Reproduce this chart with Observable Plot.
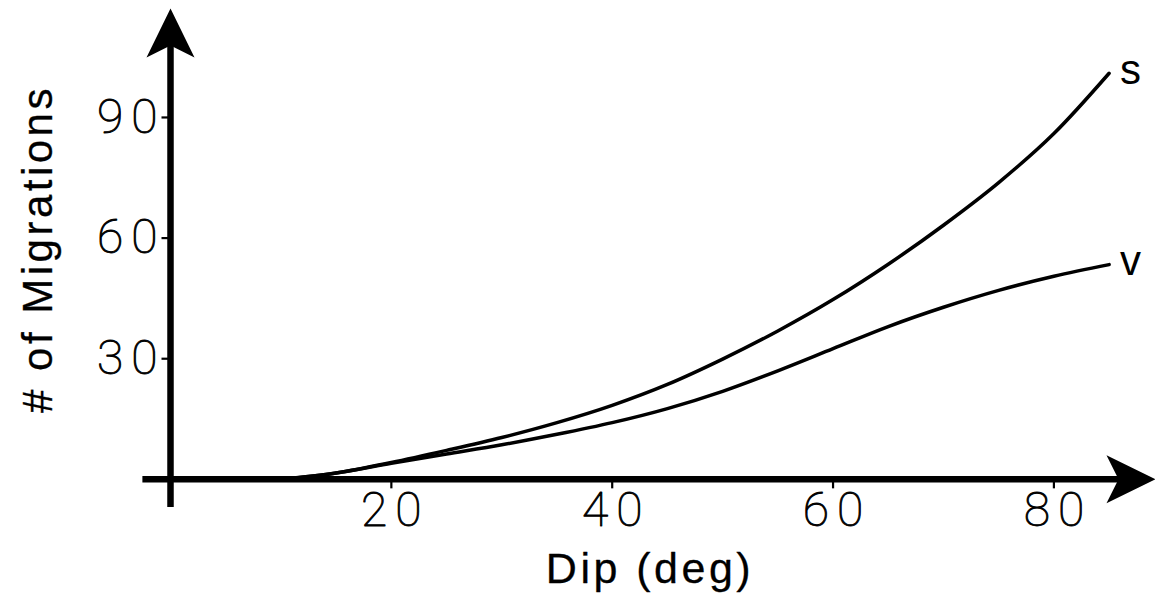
<!DOCTYPE html>
<html><head><meta charset="utf-8">
<script src="https://cdn.jsdelivr.net/npm/d3@7"></script>
<script src="https://cdn.jsdelivr.net/npm/@observablehq/plot@0.6"></script>
<style>
body{margin:0;background:#fff}
svg{display:block}
</style>
</head><body><div id="chart"></div>
<script>
// Data
const dips    = [10, 15, 20, 25, 30, 35, 40, 45, 50, 55, 60, 65, 70, 75, 80, 85];
const sValues = [0, 1.6, 4.2, 7.2, 10.4, 14.1, 18.4, 23.6, 29.9, 36.9, 44.7, 53.5, 63.2, 73.8, 86, 101];
const vValues = [0, 1.6, 4.0, 6.3, 8.6, 11.2, 14.1, 17.6, 21.9, 27.0, 32.5, 38.0, 42.8, 47.0, 50.5, 53.4];
const seriesNames = ["s", "v"];
const xTicks = [20, 40, 60, 80];
const yTicks = [30, 60, 90];
const xAxisExtent = [-2.5, 89.2];
const yAxisExtent = [-7, 117.1];
const xLabel = "Dip (deg)";
const yLabel = "# of Migrations";

const data = dips.flatMap((d, i) => [
  {dip: d, n: sValues[i], series: seriesNames[0]},
  {dip: d, n: vValues[i], series: seriesNames[1]}
]);

const arrowHead = {draw(ctx) { ctx.moveTo(0, 0); ctx.lineTo(24, 49); ctx.lineTo(0, 37); ctx.lineTo(-24, 49); ctx.closePath(); }};
const tickMark = {draw(ctx) { ctx.moveTo(0, 0); ctx.lineTo(0, 9); }};

const digitFont = "Roboto, 'DejaVu Sans', sans-serif";
const textFont = "'Liberation Sans', Arial, Helvetica, sans-serif";

const chart = Plot.plot({
  width: 1155,
  height: 597,
  marginLeft: 170,
  marginRight: 0,
  marginTop: 8,
  marginBottom: 90,
  style: {background: "white", color: "black", overflow: "visible"},
  x: {domain: [0, xAxisExtent[1]], axis: null},
  y: {domain: [yAxisExtent[0], yAxisExtent[1]], axis: null},
  marks: [
    // axis lines
    Plot.ruleY([0], {x1: xAxisExtent[0], x2: xAxisExtent[1], insetRight: 30, stroke: "black", strokeWidth: 6.5}),
    Plot.ruleX([0], {y1: yAxisExtent[1], y2: yAxisExtent[0], insetTop: 30, stroke: "black", strokeWidth: 6.5}),
    // arrow heads
    Plot.dot([xAxisExtent[1]], {x: d => d, y: 0, symbol: arrowHead, rotate: 90, fill: "black", stroke: "none"}),
    Plot.dot([yAxisExtent[1]], {x: 0, y: d => d, symbol: arrowHead, fill: "black", stroke: "none"}),
    // tick marks
    Plot.dot(xTicks, {x: d => d, y: 0, symbol: tickMark, fill: "none", stroke: "black", strokeWidth: 2.2}),
    Plot.dot(yTicks, {x: 0, y: d => d, symbol: tickMark, rotate: 90, fill: "none", stroke: "black", strokeWidth: 2.2}),
    // tick labels
    Plot.text(xTicks, {x: d => d, y: 0, text: d => String(d), lineAnchor: "middle", dy: 31, dx: 4, fontSize: 48, fontFamily: digitFont, fontWeight: 100, fill: "black", stroke: "black", strokeWidth: 0.9}),
    Plot.text(yTicks, {x: 0, y: d => d, text: d => String(d), textAnchor: "end", lineAnchor: "middle", dx: -5, fontSize: 48, fontFamily: digitFont, fontWeight: 100, fill: "black", stroke: "black", strokeWidth: 0.9}),
    // curves
    Plot.line(data, {x: "dip", y: "n", z: "series", curve: "monotone-x", stroke: "black", strokeWidth: 3.5}),
    Plot.text(data, Plot.selectLast({x: "dip", y: "n", z: "series", text: "series", textAnchor: "start", lineAnchor: "middle", dx: 11, dy: -3, fontSize: 42, fontFamily: textFont, fill: "black"})),
    // axis titles
    Plot.text([xLabel], {frameAnchor: "bottom", text: d => d, textAnchor: "middle", lineAnchor: "middle", dy: 62, dx: -13, fontSize: 43, fontFamily: textFont, fill: "black", stroke: "black", strokeWidth: 0.3}),
    Plot.text([yLabel], {frameAnchor: "left", text: d => d, rotate: -90, textAnchor: "middle", lineAnchor: "middle", dx: -132, dy: -9, fontSize: 42, fontFamily: textFont, fill: "black", stroke: "black", strokeWidth: 0.3})
  ]
});

// letter spacing like the reference's typesetting
const tickStrings = new Set([...xTicks, ...yTicks].map(String));
d3.select(chart).selectAll("text").each(function() {
  const t = this.textContent;
  if (tickStrings.has(t)) this.setAttribute("letter-spacing", "8");
  else if (t === xLabel || t === yLabel) this.setAttribute("letter-spacing", "3.5");
});
document.getElementById("chart").append(chart);
</script>
</body></html>
